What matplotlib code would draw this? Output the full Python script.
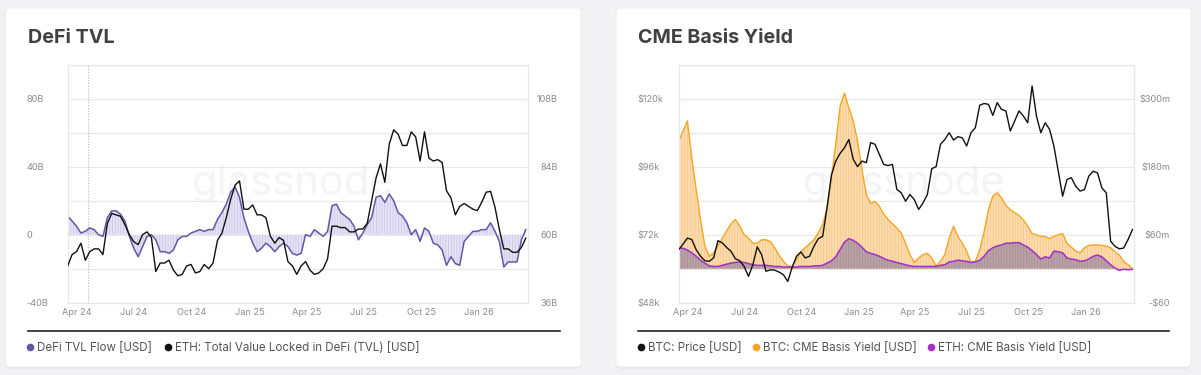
import matplotlib
matplotlib.use('Agg')
import matplotlib.pyplot as plt
import matplotlib.dates as mdates
from matplotlib.lines import Line2D
from matplotlib.patches import FancyBboxPatch
from matplotlib.transforms import IdentityTransform
import pandas as pd

plt.rcParams['font.family'] = ['Inter', 'DejaVu Sans']
plt.rcParams['hatch.linewidth'] = 0.6

# ---------------- data (weekly samples) ----------------
dates = pd.date_range('2024-03-18', periods=105, freq='7D')

defi_flow_b = [11, 8, 5, 1, 2, 4, 3, 0, -1, 10, 14, 14, 12, 8, -1, -8, -13, -7, -1, 0,
               -3, -10, -10, -11, -9, -3, -1, -1, 1, 2, 3, 2, 3, 3, 9, 13, 18, 25, 28, 22,
               10, 2, -5, -10, -8, -5, -7, -10, -7, -5, -7, -11, -12, -11, 0, -1, 3, 1, -1, 2,
               17, 18, 13, 11, 9, 5, -3, 1, 6, 10, 22, 23, 19, 24, 20, 13, 11, 7, 0, 3,
               -4, 4, 2, -5, -6, -9, -18, -13, -17, -18, -4, -1, 2, 2, 3, 3, 7, 2, -4, -19,
               -16, -16, -16, -3, 3]

eth_tvl_b = [49, 53, 54, 57, 51, 54, 55, 55, 53, 64, 67.5, 67, 66.5, 63.5, 60, 57.5, 56.5, 60, 61, 59,
             47, 50, 50, 51, 47.5, 45.5, 46, 49, 49.5, 46.5, 47, 49.5, 48, 50, 58, 60.5, 66, 72.5, 77.5, 79,
             69, 69, 70.5, 67, 67, 66, 59.5, 57, 59, 58, 50.5, 49, 46, 49, 50.5, 47.5, 46, 46.5, 48, 51.5,
             63, 63, 62.5, 62.5, 61, 61, 62, 62, 64, 72, 80, 85, 78.5, 92, 97, 95.5, 91.5, 91.5, 96.3, 94.5,
             86, 96.3, 87, 86, 86.5, 85.5, 75.5, 73, 67, 70, 71, 70, 69, 68.5, 71.5, 75, 75.3, 69.7, 61.8, 55,
             55, 53.8, 53.8, 55.5, 58.8]

btc_price_k = [66.7, 68.7, 70.8, 70.3, 66.7, 64.4, 62.8, 62.6, 63.8, 69.9, 69.1, 67.5, 66.1, 63.5, 62.8,
               60.8, 57.3, 61.4, 67.7, 65, 59.1, 59.6, 59.5, 58.8, 57.9, 55.5, 60.5, 64.4, 65.9, 63.8,
               64.4, 67.9, 70.6, 71.4, 81.5, 93, 98, 100.7, 102.7, 105.6, 98.6, 96, 98, 97.4, 104.5,
               103.9, 100.3, 96.8, 96.4, 96.8, 88, 86.8, 83.8, 86.2, 84.4, 80.9, 83.2, 86.2, 95.3, 96,
               103.9, 105.6, 108, 105.4, 106.6, 106.2, 103.3, 108, 109.8, 117.7, 118.3, 118, 114.1, 118.6,
               116.2, 115.7, 108.6, 112.1, 115.7, 113.9, 111.5, 124.5, 113.9, 108, 111.5, 109.2, 103.3,
               94.4, 85.6, 91.5, 92.1, 89.1, 87.4, 87.9, 92.7, 94.4, 93.8, 88.5, 86.8, 69.7, 67.9, 67,
               67.3, 70.3, 73.8]

btc_basis_m = [225, 243, 261, 196, 140, 87, 40, 22, 28, 41, 54, 67, 79, 87, 75, 60, 54, 45, 45, 51,
               51, 48, 37, 24, 13, 5, 4, 16, 30, 37, 44, 51, 63, 78, 107, 160, 220, 287, 310, 284,
               261, 225, 175, 131, 115, 119, 110, 96, 87, 79, 72, 63, 45, 25, 11, 19, 25, 27, 19, 5,
               13, 25, 54, 75, 57, 45, 31, 11, 13, 34, 65, 104, 128, 134, 125, 112, 104, 99, 94, 86,
               75, 62, 60, 57, 57, 53, 57, 60, 62, 45, 38, 31, 28, 37, 41, 42, 42, 41, 40, 37,
               30, 24, 13, 7, 0]

eth_basis_m = [37, 36, 33, 28, 22, 15, 10, 5, 4, 4, 6, 8, 10, 11, 12, 11, 9, 7, 6, 6,
               6, 5, 4, 4, 3, 3, 3, 3, 4, 4, 4, 5, 5, 6, 10, 14, 21, 34, 47, 53,
               50, 45, 38, 30, 27, 25, 22, 18, 15, 13, 11, 9, 7, 5, 4, 4, 4, 4, 4, 4,
               6, 7, 12, 13, 15, 14, 13, 11, 12, 15, 22, 32, 37, 40, 42, 45, 45, 46, 46, 42,
               38, 32, 25, 17, 21, 19, 31, 30, 28, 19, 17, 16, 13, 14, 17, 22, 24, 21, 14, 7,
               1, -3, -1, -2, -1]

halving_date = pd.Timestamp('2024-04-20')
x_start, x_end = pd.Timestamp('2024-03-18'), pd.Timestamp('2026-03-19')

flow_ticks = [-40, -20, 0, 20, 40, 60, 80, 100]
flow_labels = ['-40B', '', '0', '', '40B', '', '80B', '']
tvl_ticks = [36, 60, 84, 108]
tvl_labels = ['36B', '60B', '84B', '108B']
price_ticks = [48, 60, 72, 84, 96, 108, 120, 132]
price_labels = ['$48k', '', '$72k', '', '$96k', '', '$120k', '']
basis_ticks = [-60, 0, 60, 120, 180, 240, 300, 360]
basis_labels = ['-$60', '', '$60m', '', '$180m', '', '$300m', '']

# ---------------- styling ----------------
W, H = 1201, 375
BG = '#f2f2f4'
GRID = '#e8e8ea'
TICK = '#8c8c8c'
TITLE = '#414141'
LEG = '#555555'
PURPLE = '#6457a6'
ORANGE = '#f5a623'
MAGENTA = '#a52fc7'

fig = plt.figure(figsize=(W / 100, H / 100), dpi=100, facecolor=BG)


def card(x0, y0, x1, y1):
    sh = FancyBboxPatch((x0, H - y1 - 1.5), x1 - x0, y1 - y0,
                        boxstyle='round,pad=0,rounding_size=4', transform=IdentityTransform(),
                        facecolor='#e6e6ea', edgecolor='none', zorder=-3)
    c = FancyBboxPatch((x0, H - y1), x1 - x0, y1 - y0,
                       boxstyle='round,pad=0,rounding_size=4', transform=IdentityTransform(),
                       facecolor='white', edgecolor='#ebebee', linewidth=0.6, zorder=-2)
    fig.patches.extend([sh, c])


def px_axes(x0, y0, x1, y1):
    return fig.add_axes([x0 / W, 1 - y1 / H, (x1 - x0) / W, (y1 - y0) / H])


def pts(px):
    return px * 72 / 100


def style_axes(ax):
    ax.set_facecolor('none')
    for s in ax.spines.values():
        s.set_color(GRID)
        s.set_linewidth(0.8)
    ax.tick_params(axis='both', length=0, labelsize=6.6, labelcolor=TICK)
    ax.xaxis.set_major_locator(mdates.MonthLocator(bymonth=[1, 4, 7, 10]))
    ax.xaxis.set_major_formatter(mdates.DateFormatter('%b %y'))
    ax.tick_params(axis='x', pad=pts(5))
    ax.set_xlim(x_start, x_end)


def y_labels(ax, side, pad_px, ha):
    if side == 'left':
        ax.yaxis.tick_left()
    else:
        ax.yaxis.tick_right()
    ax.tick_params(axis='y', pad=pts(pad_px), length=0)
    for lbl in ax.get_yticklabels():
        lbl.set_horizontalalignment(ha)


card(5.7, 8, 581, 367)
card(616, 8, 1191, 367)

# ---------------- left panel: DeFi TVL ----------------
ax1 = px_axes(67.7, 64.7, 527.7, 302.7)
style_axes(ax1)
ax1.set_axisbelow(True)
ax1.set_ylim(-40, 100)
ax1.set_yticks(flow_ticks)
ax1.set_yticklabels(flow_labels)
ax1.grid(axis='y', color=GRID, linewidth=0.8)
ax1.text(0.49, 0.5, 'glassnode', transform=ax1.transAxes, fontsize=30, color='#f4f4f5',
         ha='center', va='center', zorder=0.2)
ax1.fill_between(dates, defi_flow_b, 0, facecolor='#e6e3f4', edgecolor='#cbc5ea',
                 hatch='||||||', linewidth=0, zorder=1)
ax1.plot(dates, defi_flow_b, color=PURPLE, linewidth=1.1, zorder=2)
ax1.axvline(halving_date, color='#b5b5b5', linestyle=(0, (1, 1.5)), linewidth=0.8, zorder=1.5)

ax1r = ax1.twinx()
style_axes(ax1r)
ax1r.set_ylim(36, 120)
ax1r.set_yticks(tvl_ticks)
ax1r.set_yticklabels(tvl_labels)
ax1r.plot(dates, eth_tvl_b, color='#111111', linewidth=1.0, zorder=3)
y_labels(ax1, 'left', 41.5, 'left')
y_labels(ax1r, 'right', 30.3, 'right')

fig.text(27.6 / W, 1 - 38 / H, 'DeFi TVL', fontsize=14.2, fontweight='bold', color=TITLE,
         va='center', ha='left')
fig.add_artist(Line2D([27.6 / W, 559.5 / W], [1 - 330.7 / H] * 2, transform=fig.transFigure,
                      color='#222222', linewidth=1.2))
fig.legend(handles=[Line2D([], [], marker='o', ls='', color=PURPLE, markersize=4.5),
                    Line2D([], [], marker='o', ls='', color='#111111', markersize=4.5)],
           labels=['DeFi TVL Flow [USD]', 'ETH: Total Value Locked in DeFi (TVL) [USD]'],
           loc='center left', bbox_to_anchor=(27 / W, 1 - 348 / H), ncol=2, frameon=False,
           fontsize=8.3, labelcolor=LEG, handlelength=0.5, handletextpad=0.35,
           columnspacing=1.15, borderpad=0, borderaxespad=0)

# ---------------- right panel: CME Basis Yield ----------------
ax2 = px_axes(678.7, 64.7, 1134.3, 302.7)   # yields (labels on right)
style_axes(ax2)
ax2.set_axisbelow(True)
ax2.set_ylim(-60, 360)
ax2.set_yticks(basis_ticks)
ax2.set_yticklabels(basis_labels)
ax2.grid(axis='y', color=GRID, linewidth=0.8)
ax2.text(0.496, 0.5, 'glassnode', transform=ax2.transAxes, fontsize=30, color='#f4f4f5',
         ha='center', va='center', zorder=0.2)
ax2.fill_between(dates, btc_basis_m, 0, facecolor='#fcdcae', edgecolor='#f6c888',
                 hatch='||||||', linewidth=0, zorder=1)
ax2.plot(dates, btc_basis_m, color=ORANGE, linewidth=1.0, zorder=2)
ax2.fill_between(dates, eth_basis_m, 0, facecolor='#b9a1a5', edgecolor='#a98f95',
                 hatch='||||||', linewidth=0, zorder=2.1)
ax2.plot(dates, eth_basis_m, color=MAGENTA, linewidth=1.1, zorder=2.2)

ax2p = ax2.twinx()   # BTC price (labels on left)
style_axes(ax2p)
ax2p.set_ylim(48, 132)
ax2p.set_yticks(price_ticks)
ax2p.set_yticklabels(price_labels)
ax2p.plot(dates, btc_price_k, color='#111111', linewidth=1.0, zorder=3)
y_labels(ax2, 'right', 35.7, 'right')
y_labels(ax2p, 'left', 41.4, 'left')

fig.text(638 / W, 1 - 38 / H, 'CME Basis Yield', fontsize=14.2, fontweight='bold', color=TITLE,
         va='center', ha='left')
fig.add_artist(Line2D([638 / W, 1169 / W], [1 - 330.7 / H] * 2, transform=fig.transFigure,
                      color='#222222', linewidth=1.2))
fig.legend(handles=[Line2D([], [], marker='o', ls='', color='#111111', markersize=4.5),
                    Line2D([], [], marker='o', ls='', color=ORANGE, markersize=4.5),
                    Line2D([], [], marker='o', ls='', color=MAGENTA, markersize=4.5)],
           labels=['BTC: Price [USD]', 'BTC: CME Basis Yield [USD]', 'ETH: CME Basis Yield [USD]'],
           loc='center left', bbox_to_anchor=(638 / W, 1 - 348 / H), ncol=3, frameon=False,
           fontsize=8.3, labelcolor=LEG, handlelength=0.5, handletextpad=0.35,
           columnspacing=1.0, borderpad=0, borderaxespad=0)

fig.savefig('out.png', dpi=100, facecolor=BG)
